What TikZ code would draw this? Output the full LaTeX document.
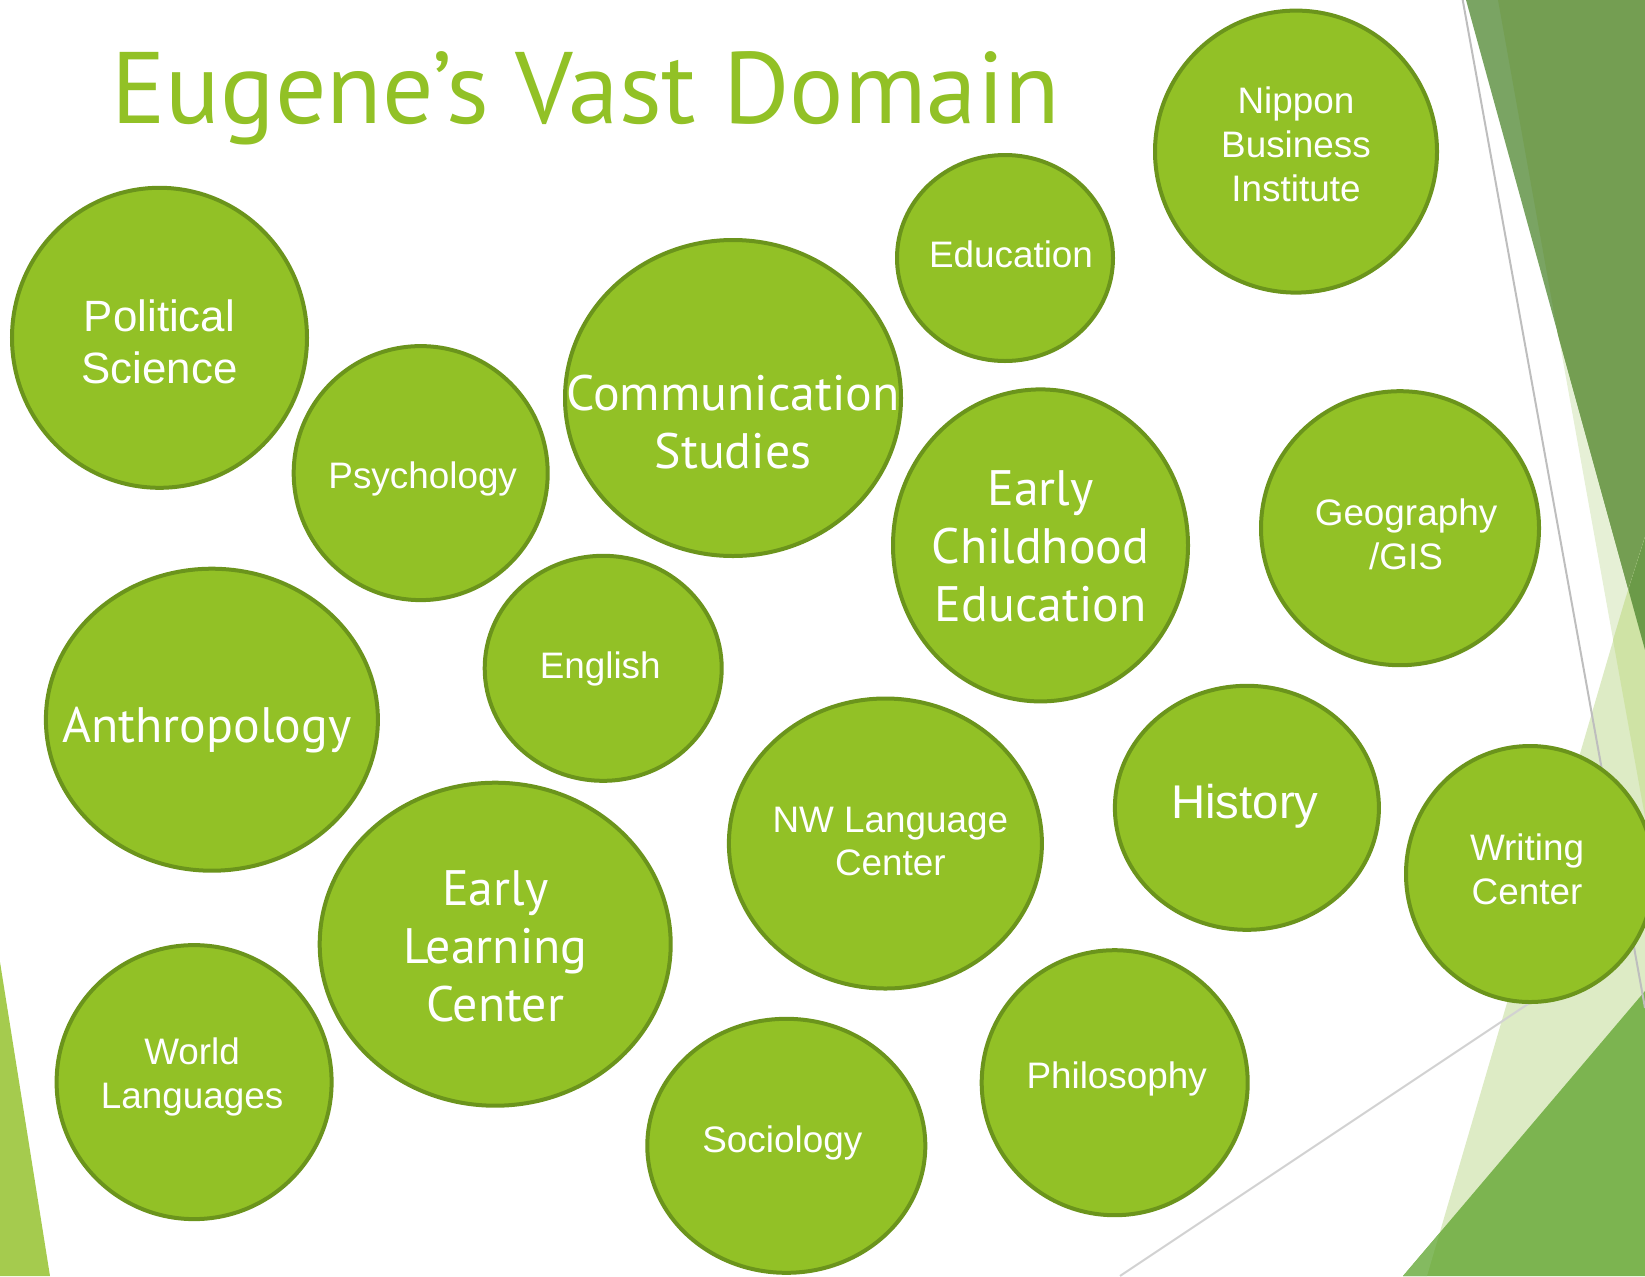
\documentclass[tikz,border=0pt]{standalone}
\usepackage{fontspec}
\setmainfont{Liberation Sans}
\newfontfamily\trebfont{PT Sans}
\usetikzlibrary{shapes.geometric}
\definecolor{leaf}{RGB}{146,193,38}
\definecolor{leafedge}{RGB}{107,148,28}
\definecolor{moss}{RGB}{116,158,82}
\definecolor{mossstripe}{RGB}{122,164,99}
\definecolor{mossdeep}{RGB}{107,154,72}
\definecolor{palegreen}{RGB}{230,240,214}
\definecolor{palegreenb}{RGB}{221,235,197}
\definecolor{lightgreen}{RGB}{207,227,165}
\definecolor{grassgreen}{RGB}{124,180,80}
\definecolor{grasslight}{RGB}{132,186,96}
\definecolor{limegreen}{RGB}{165,203,78}
\definecolor{ruledark}{RGB}{190,190,190}
\definecolor{rulelight}{RGB}{210,210,210}

\begin{document}
\begin{tikzpicture}[x=1bp,y=-1bp]
	\tikzstyle{every node}+=[inner sep=0pt]
	\tikzstyle{bubble}=[ellipse, draw=leafedge, line width=4bp, fill=leaf]
	\tikzstyle{plain}=[text=white, align=center, font=\fontsize{37}{44}\selectfont]
	\tikzstyle{heavy}=[text=white, align=center, font=\trebfont\fontsize{50}{58}\selectfont]
	\useasboundingbox (0,0) rectangle (1645,1276);
	% facets on the right
	\fill[palegreen] (1498,0) -- (1645,0) -- (1645,817) -- cycle;
	\fill[mossstripe] (1466,0) -- (1645,0) -- (1645,650) -- cycle;
	\fill[moss] (1498,0) -- (1645,0) -- (1645,650) -- (1558,335) -- cycle;
	\fill[palegreenb] (1625,600) -- (1645,537) -- (1645,1276) -- (1427,1276) -- cycle;
	\fill[lightgreen] (1625,600) -- (1645,537) -- (1645,817) -- (1613,640) -- cycle;
	\fill[mossdeep] (1628.3,589.5) -- (1645,537) -- (1645,650) -- cycle;
	\fill[grassgreen] (1645,991) -- (1645,1276) -- (1403,1276) -- cycle;
	\fill[grasslight] (1403,1276) -- (1427,1276) -- (1439.6,1233) -- cycle;
	\draw[ruledark, line width=2bp] (1462.7,0) -- (1645,1008);
	\draw[rulelight, line width=2bp] (1120,1276) -- (1645,926);
	% facet on the left
	\fill[limegreen] (0,962) -- (50,1276) -- (0,1276) -- cycle;
	% title
	\node[anchor=base west, text=leaf, font=\trebfont\fontsize{102}{116}\selectfont] (title) at (111,123) {Eugene’s Vast Domain};
	% bubbles
	\node[bubble, minimum width=295bp, minimum height=300bp] (polsci) at (159.5,337.8) {};
	\node[plain, font=\fontsize{44}{53}\selectfont] (polsci-t) at ([shift={(0,4)}]polsci.center) {Political\\Science};
	\node[bubble, minimum width=254bp, minimum height=254bp] (psych) at (420.7,473.1) {};
	\node[plain] (psych-t) at ([shift={(2,6)}]psych.center) {Psychology};
	\node[bubble, minimum width=336bp, minimum height=316bp] (comm) at (733,398) {};
	\node[heavy] (comm-t) at ([shift={(0,24)}]comm.center) {Communication\\Studies};
	\node[bubble, minimum width=216bp, minimum height=206bp] (educ) at (1005,258) {};
	\node[plain] (educ-t) at ([shift={(6,-4)}]educ.center) {Education};
	\node[bubble, minimum width=282bp, minimum height=282bp] (nippon) at (1296,151.6) {};
	\node[plain] (nippon-t) at ([shift={(0,-7)}]nippon.center) {Nippon\\Business\\Institute};
	\node[bubble, minimum width=295bp, minimum height=312bp] (ece) at (1040.5,545.4) {};
	\node[heavy] (ece-t) at ([shift={(0,1)}]ece.center) {Early\\Childhood\\Education};
	\node[bubble, minimum width=278bp, minimum height=274bp] (geo) at (1400,528.2) {};
	\node[plain] (geo-t) at ([shift={(6,6)}]geo.center) {Geography\\/GIS};
	\node[bubble, minimum width=332bp, minimum height=302bp] (anthro) at (211.9,719.7) {};
	\node[heavy] (anthro-t) at ([shift={(-5,10)}]anthro.center) {Anthropology};
	\node[bubble, minimum width=237bp, minimum height=225bp] (english) at (603.2,668.3) {};
	\node[plain] (english-t) at ([shift={(-3,1)}]english.center) {English};
	\node[bubble, minimum width=351bp, minimum height=323bp] (elc) at (495.2,944.2) {};
	\node[heavy] (elc-t) at ([shift={(0,2)}]elc.center) {Early\\Learning\\Center};
	\node[bubble, minimum width=313bp, minimum height=290bp] (nwlc) at (885.4,843.5) {};
	\node[plain] (nwlc-t) at ([shift={(5,-2)}]nwlc.center) {NW Language\\Center};
	\node[bubble, minimum width=264bp, minimum height=244bp] (history) at (1246.9,807.8) {};
	\node[plain, font=\fontsize{47.5}{57}\selectfont] (history-t) at ([shift={(-2,-2)}]history.center) {History};
	\node[bubble, minimum width=248bp, minimum height=256bp] (writing) at (1530,874) {};
	\node[plain] (writing-t) at ([shift={(-3,-5)}]writing.center) {Writing\\Center};
	\node[bubble, minimum width=275bp, minimum height=274bp] (world) at (194.1,1082.1) {};
	\node[plain] (world-t) at ([shift={(-2,-5)}]world.center) {World\\Languages};
	\node[bubble, minimum width=278bp, minimum height=254bp] (socio) at (786.3,1145.8) {};
	\node[plain] (socio-t) at ([shift={(-4,-3)}]socio.center) {Sociology};
	\node[bubble, minimum width=266bp, minimum height=265bp] (philo) at (1114.7,1082.7) {};
	\node[plain] (philo-t) at ([shift={(2,-4)}]philo.center) {Philosophy};
\end{tikzpicture}
\end{document}
